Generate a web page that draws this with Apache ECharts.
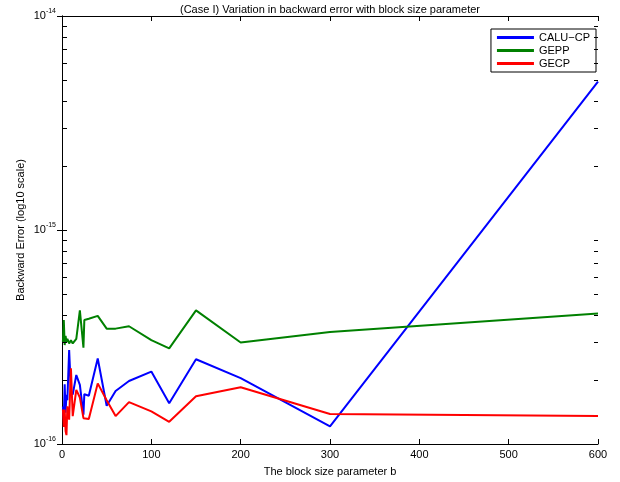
<!DOCTYPE html>
<html>
<head>
<meta charset="utf-8">
<script src="https://cdn.jsdelivr.net/npm/echarts@6/dist/echarts.min.js"></script>
<style>
html,body{margin:0;padding:0;background:#fff;}
#chart{width:620px;height:482px;}
</style>
</head>
<body>
<div id="chart"></div>
<script>
// block size parameter b
var blockSizes = [1,2,3,4,5,6,8,10,12,16,20,24,25,30,40,50,60,75,100,120,150,200,300,600];
// backward errors (units of 1e-16)
var caluCP = [1.50,1.30,1.90,1.40,1.70,1.60,2.75,1.76,1.70,2.10,1.89,1.37,1.71,1.68,2.51,1.51,1.77,1.97,2.18,1.55,2.49,2.03,1.21,49.3];
var gepp   = [3.00,3.80,2.90,3.20,3.00,3.10,2.95,3.05,2.95,3.10,4.21,2.82,3.80,3.85,3.97,3.46,3.46,3.55,3.06,2.80,4.21,2.98,3.34,4.07];
var gecp   = [1.45,1.20,1.45,1.15,1.10,1.50,1.30,2.26,1.35,1.79,1.65,1.32,1.32,1.31,1.92,1.60,1.35,1.57,1.42,1.27,1.67,1.84,1.38,1.35];
var xTicks = [0,100,200,300,400,500,600];
var yDecades = [-16,-15,-14];
var minorMult = [2,3,4,5,6,7,8,9];

function pairs(vals){ return blockSizes.map(function(b,i){ return [b, vals[i]*1e-16]; }); }

var minorVals = [];
yDecades.slice(0,-1).forEach(function(d){
  minorMult.forEach(function(m){ minorVals.push([300, m*Math.pow(10,d)]); });
});

var chart = echarts.init(document.getElementById('chart'), null, {renderer:'canvas'});
var fontFam = '"Liberation Sans", Arial, Helvetica, sans-serif';
var supRich = {
  b:{fontSize:11, color:'#000', fontFamily:fontFam},
  s:{fontSize:7, color:'#000', fontFamily:fontFam, padding:[0,0,9,0]}
};
var option = {
  animation:false,
  backgroundColor:'#fff',
  title:{
    text:'(Case I) Variation in backward error with block size parameter',
    left:330, top:4, textAlign:'center', padding:0,
    textStyle:{fontSize:11, fontWeight:'normal', color:'#000', fontFamily:fontFam}
  },
  legend:{
    orient:'vertical', right:24, top:29,
    backgroundColor:'#fff', borderColor:'#000', borderWidth:1, borderRadius:0,
    padding:[2,6,2,6], itemGap:0, itemWidth:37, itemHeight:3, icon:'rect',
    textStyle:{fontSize:11, color:'#000', fontFamily:fontFam, lineHeight:13},
    data:['CALU\u2212CP','GEPP','GECP']
  },
  grid:{left:62, right:22, top:16, bottom:36, containLabel:false},
  xAxis:[{
    type:'value', min:0, max:600, interval:100,
    name:'The block size parameter b', nameLocation:'middle', nameGap:22,
    nameTextStyle:{fontSize:11, color:'#000', fontFamily:fontFam},
    axisLine:{lineStyle:{color:'#000', width:1}},
    axisTick:{inside:true, length:5, lineStyle:{color:'#000'}},
    axisLabel:{fontSize:11, color:'#000', fontFamily:fontFam, margin:5},
    splitLine:{show:false}
  },{
    type:'value', min:0, max:600, interval:100, position:'top',
    axisLine:{lineStyle:{color:'#000', width:1}},
    axisTick:{inside:true, length:5, lineStyle:{color:'#000'}},
    axisLabel:{show:false}, splitLine:{show:false}
  }],
  yAxis:[{
    type:'log', logBase:10, min:1e-16, max:1e-14,
    name:'Backward Error (log10 scale)', nameLocation:'middle', nameGap:36,
    nameMoveOverlap:false,
    nameTextStyle:{fontSize:11, color:'#000', fontFamily:fontFam},
    axisLine:{lineStyle:{color:'#000', width:1}},
    axisTick:{inside:true, length:5, lineStyle:{color:'#000'}},
    axisLabel:{margin:6, rich:supRich, formatter:function(v){
      return '{b|10}{s|' + Math.round(Math.log10(v)) + '}'; }},
    splitLine:{show:false}
  },{
    type:'log', logBase:10, min:1e-16, max:1e-14, position:'right',
    axisLine:{lineStyle:{color:'#000', width:1}},
    axisTick:{inside:true, length:5, lineStyle:{color:'#000'}},
    axisLabel:{show:false}, splitLine:{show:false}
  }],
  series:[
    {name:'CALU\u2212CP', type:'line', data:pairs(caluCP), symbol:'none', lineStyle:{color:'#0000ff', width:2}, itemStyle:{color:'#0000ff'}, z:3},
    {name:'GEPP', type:'line', data:pairs(gepp), symbol:'none', lineStyle:{color:'#008000', width:2}, itemStyle:{color:'#008000'}, z:3},
    {name:'GECP', type:'line', data:pairs(gecp), symbol:'none', lineStyle:{color:'#ff0000', width:2}, itemStyle:{color:'#ff0000'}, z:3},
    {type:'custom', data:minorVals, silent:true, z:10, clip:false,
      encode:{x:0, y:1},
      renderItem:function(params, api){
        var c = api.coord([api.value(0), api.value(1)]);
        var L = api.coord([0, api.value(1)]);
        var R = api.coord([600, api.value(1)]);
        var y = Math.round(c[1]);
        return {type:'group', children:[
          {type:'rect', shape:{x:Math.round(L[0]) + 1, y:y, width:4, height:1}, style:{fill:'#000'}},
          {type:'rect', shape:{x:Math.round(R[0]) - 4, y:y, width:4, height:1}, style:{fill:'#000'}}
        ]};
      }}
  ]
};
chart.setOption(option);
</script>
</body>
</html>
